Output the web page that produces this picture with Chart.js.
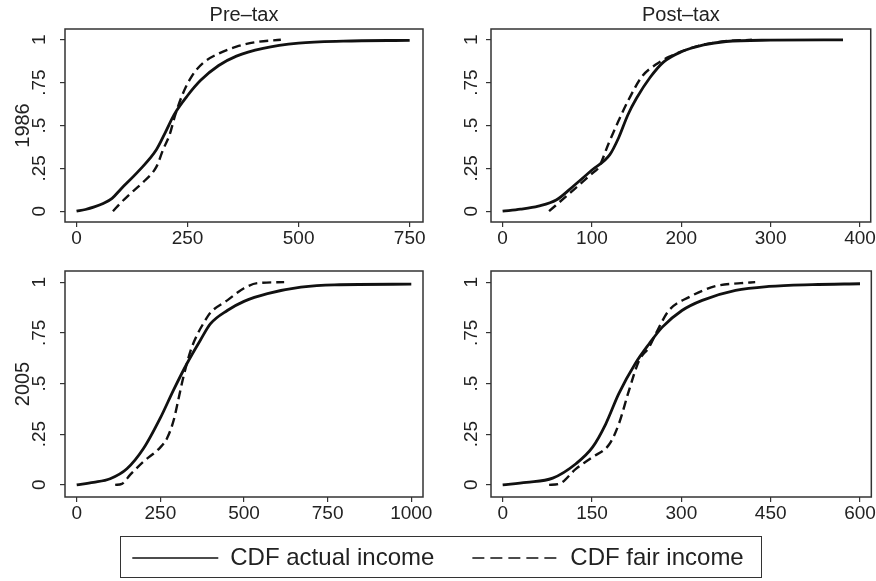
<!DOCTYPE html>
<html>
<head>
<meta charset="utf-8">
<script src="https://cdn.jsdelivr.net/npm/chart.js@4.4.1/dist/chart.umd.min.js"></script>
<style>
  body { margin: 0; background: #fff; width: 876px; height: 581px; position: relative; overflow: hidden; }
  canvas { position: absolute; }
  #legendBox { position: absolute; left: 120px; top: 536px; width: 642px; height: 42px; border: 1px solid #333; box-sizing: border-box; }
</style>
</head>
<body>
<div id="legendBox"></div>
<canvas id="tl" width="436" height="250" style="left:0;top:0"></canvas>
<canvas id="tr" width="440" height="250" style="left:436px;top:0"></canvas>
<canvas id="bl" width="436" height="275" style="left:0;top:250px"></canvas>
<canvas id="br" width="440" height="275" style="left:436px;top:250px"></canvas>
<canvas id="legend" width="876" height="70" style="left:0;top:508px"></canvas>
<script>
const family = "'Liberation Sans', Arial, Helvetica, sans-serif";
const ink = "#111";
const textInk = "#222";

// y axis is the same on all four panels
const yTicks = [0, 0.25, 0.5, 0.75, 1];
const yTickLabels = ["0", ".25", ".5", ".75", "1"];

const legendLabels = ["CDF actual income", "CDF fair income"];

// Pre-tax, 1986
const pre86Ticks = [0, 250, 500, 750];
const pre86ActualX = [0, 20, 40, 60, 80, 100, 140, 180, 200, 220, 250, 280, 320, 360, 420, 500, 600, 750];
const pre86ActualY = [0, 0.01, 0.025, 0.045, 0.075, 0.13, 0.235, 0.36, 0.46, 0.565, 0.675, 0.765, 0.85, 0.905, 0.95, 0.98, 0.992, 0.997];
const pre86FairX = [82, 100, 120, 150, 180, 195, 210, 222, 240, 260, 285, 320, 360, 400, 460];
const pre86FairY = [0, 0.05, 0.1, 0.17, 0.26, 0.36, 0.45, 0.56, 0.69, 0.79, 0.865, 0.92, 0.96, 0.985, 1.0];

// Post-tax, 1986
const post86Ticks = [0, 100, 200, 300, 400];
const post86ActualX = [0, 20, 40, 60, 80, 100, 120, 130, 140, 150, 165, 180, 200, 225, 250, 300, 381];
const post86ActualY = [0, 0.012, 0.03, 0.065, 0.15, 0.24, 0.33, 0.43, 0.56, 0.66, 0.78, 0.87, 0.93, 0.97, 0.99, 0.998, 1.0];
const post86FairX = [52, 74, 100, 108, 119, 130, 141, 156, 171, 186, 216, 246, 279];
const post86FairY = [0, 0.1, 0.22, 0.26, 0.4, 0.53, 0.65, 0.786, 0.854, 0.9, 0.96, 0.99, 1.0];

// Pre-tax, 2005
const pre05Ticks = [0, 250, 500, 750, 1000];
const pre05ActualX = [0, 50, 100, 150, 200, 250, 290, 330, 370, 400, 450, 500, 570, 670, 770, 1000];
const pre05ActualY = [0, 0.012, 0.03, 0.079, 0.18, 0.33, 0.47, 0.6, 0.715, 0.795, 0.86, 0.905, 0.943, 0.975, 0.987, 0.99];
const pre05FairX = [115, 135, 160, 200, 250, 270, 290, 305, 320, 340, 360, 380, 400, 450, 500, 540, 620];
const pre05FairY = [0, 0.005, 0.05, 0.115, 0.185, 0.23, 0.32, 0.43, 0.54, 0.66, 0.74, 0.8, 0.85, 0.91, 0.97, 0.995, 1.0];

// Post-tax, 2005
const post05Ticks = [0, 150, 300, 450, 600];
const post05ActualX = [0, 40, 84, 123, 151, 173, 195, 223, 246, 268, 301, 335, 391, 447, 520, 600];
const post05ActualY = [0, 0.012, 0.033, 0.104, 0.186, 0.3, 0.45, 0.6, 0.696, 0.778, 0.86, 0.91, 0.959, 0.979, 0.988, 0.992];
const post05FairX = [78, 95, 123, 151, 179, 195, 212, 229, 246, 257, 279, 313, 357, 400, 424];
const post05FairY = [0, 0.005, 0.079, 0.137, 0.2, 0.3, 0.465, 0.613, 0.68, 0.745, 0.86, 0.926, 0.98, 0.995, 1.0];

const zip = (xs, ys) => xs.map((x, i) => ({x, y: ys[i]}));

// box round the plot region, like the Stata frame
const frame = {
	id: "frame",
	afterDraw(chart) {
		const {ctx, chartArea: a} = chart;
		ctx.save();
		ctx.strokeStyle = "#333";
		ctx.lineWidth = 1.5;
		ctx.strokeRect(a.left, a.top, a.right - a.left, a.bottom - a.top);
		ctx.restore();
	}
};

const panel = (id, opts) => new Chart(document.getElementById(id), {
	type: "line",
	data: {
		datasets: [{
			label: legendLabels[0],
			data: zip(opts.actualX, opts.actualY),
			borderColor: ink,
			borderWidth: 2.8,
			pointRadius: 0,
			cubicInterpolationMode: "monotone"
		}, {
			label: legendLabels[1],
			data: zip(opts.fairX, opts.fairY),
			borderColor: ink,
			borderWidth: 2.4,
			borderDash: [9, 5],
			pointRadius: 0,
			cubicInterpolationMode: "monotone"
		}]
	},
	options: {
		animation: false,
		responsive: false,
		events: [],
		layout: { padding: { left: 0, right: opts.padRight, top: opts.padTop, bottom: 0 } },
		plugins: {
			legend: { display: false },
			tooltip: { enabled: false },
			title: {
				display: !!opts.title,
				text: opts.title,
				fullSize: false,
				color: textInk,
				font: { family, size: 20, weight: "normal" },
				padding: { top: 3, bottom: 2 }
			}
		},
		scales: {
			x: {
				type: "linear",
				min: opts.xMin,
				max: opts.xMax,
				afterBuildTicks: s => { s.ticks = opts.xTicks.map(v => ({value: v})); },
				afterFit: s => { s.height = 28; },
				border: { display: false },
				grid: { drawOnChartArea: false, drawTicks: true, tickLength: 5, color: "#333", lineWidth: 1.2 },
				ticks: { autoSkip: false, maxRotation: 0, padding: 0, color: textInk, font: { family, size: 19 }, callback: v => String(v) }
			},
			y: {
				min: opts.yMin,
				max: opts.yMax,
				afterBuildTicks: s => { s.ticks = yTicks.map(v => ({value: v})); },
				afterFit: s => { s.width = opts.yWidth; },
				border: { display: false },
				grid: { drawOnChartArea: false, drawTicks: true, tickLength: 5, color: "#333", lineWidth: 1.2 },
				ticks: {
					minRotation: 90, maxRotation: 90, crossAlign: "center",
					padding: opts.yPad, color: textInk, font: { family, size: 19 },
					callback: v => yTickLabels[yTicks.indexOf(v)]
				},
				title: {
					display: !!opts.yTitle,
					text: opts.yTitle,
					color: textInk,
					font: { family, size: 20 },
					padding: { top: 11, bottom: 0 }
				}
			}
		}
	},
	plugins: [frame]
});

panel("tl", {
	title: "Pre\u2013tax", yTitle: "1986",
	actualX: pre86ActualX, actualY: pre86ActualY, fairX: pre86FairX, fairY: pre86FairY,
	xTicks: pre86Ticks, xMin: -26, xMax: 780, yMin: -0.063, yMax: 1.063,
	yWidth: 65, yPad: 7, padRight: 13, padTop: 0
});
panel("tr", {
	title: "Post\u2013tax", yTitle: "",
	actualX: post86ActualX, actualY: post86ActualY, fairX: post86FairX, fairY: post86FairY,
	xTicks: post86Ticks, xMin: -13, xMax: 412, yMin: -0.063, yMax: 1.063,
	yWidth: 55, yPad: 1, padRight: 4, padTop: 0
});
panel("bl", {
	title: "", yTitle: "2005",
	actualX: pre05ActualX, actualY: pre05ActualY, fairX: pre05FairX, fairY: pre05FairY,
	xTicks: pre05Ticks, xMin: -35, xMax: 1035, yMin: -0.06, yMax: 1.055,
	yWidth: 65, yPad: 7, padRight: 13, padTop: 21
});
panel("br", {
	title: "", yTitle: "",
	actualX: post05ActualX, actualY: post05ActualY, fairX: post05FairX, fairY: post05FairY,
	xTicks: post05Ticks, xMin: -19.6, xMax: 619, yMin: -0.06, yMax: 1.055,
	yWidth: 55, yPad: 1, padRight: 3, padTop: 21
});

// shared legend under the panels
new Chart(document.getElementById("legend"), {
	type: "line",
	data: {
		datasets: [
			{ label: legendLabels[0], data: [], borderColor: ink, borderWidth: 1.5 },
			{ label: legendLabels[1], data: [], borderColor: ink, borderWidth: 1.5, borderDash: [12, 6] }
		]
	},
	options: {
		animation: false,
		responsive: false,
		events: [],
		scales: { x: { display: false }, y: { display: false } },
		plugins: {
			tooltip: { enabled: false },
			legend: {
				display: true,
				position: "top",
				maxHeight: 70,
				labels: {
					usePointStyle: true,
					pointStyle: "line",
					pointStyleWidth: 86,
					color: textInk,
					font: { family, size: 24 },
					padding: 38,
					// point style legend drops the dash, so put it back from the dataset
					generateLabels: chart => Chart.defaults.plugins.legend.labels.generateLabels(chart)
						.map((item, i) => ({ ...item, lineDash: chart.data.datasets[i].borderDash || [], lineWidth: 1.5, pointStyle: "line" }))
				}
			}
		}
	}
});
</script>
</body>
</html>
